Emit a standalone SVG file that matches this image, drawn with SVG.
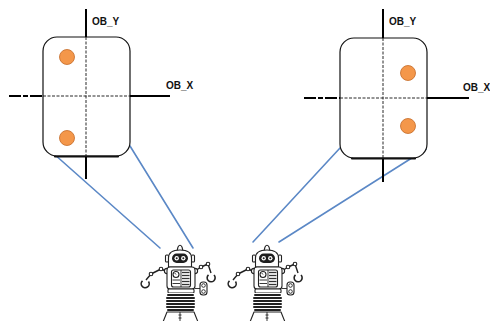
<svg xmlns="http://www.w3.org/2000/svg" xmlns:xlink="http://www.w3.org/1999/xlink" width="490" height="321" viewBox="0 0 490 321">
  <style>
    .panel { fill: #ffffff; stroke: #111111; stroke-width: 1.2; }
    .panel-base { fill: none; stroke: #111111; stroke-width: 2.2; stroke-linecap: round; }
    .axis { fill: none; stroke: #000000; stroke-width: 2; }
    .axis-out { fill: none; stroke: #000000; stroke-width: 2; stroke-dasharray: 12 2 5 2; }
    .axis-in { fill: none; stroke: #111111; stroke-width: 0.9; stroke-dasharray: 3 1.5; }
    .label { font-family: "Liberation Sans", Arial, sans-serif; font-size: 10px; font-weight: bold; fill: #111111; }
    .dot { fill: #f4974a; stroke: #c46a26; stroke-width: 0.8; }
    .ray { fill: none; stroke: #5b88c6; stroke-width: 1.6; stroke-linecap: round; }
    .r-line { fill: #ffffff; stroke: #222222; stroke-width: 1.1; stroke-linejoin: round; }
    .r-thin { fill: none; stroke: #222222; stroke-width: 0.9; }
    .r-arm { fill: none; stroke: #222222; stroke-width: 1.4; stroke-linejoin: round; }
    .r-claw { fill: none; stroke: #222222; stroke-width: 1.6; }
    .r-coil { fill: none; stroke: #222222; stroke-width: 2; stroke-linecap: round; }
    .r-dark { fill: #1e1e1e; }
  </style>
  <defs>
    <!-- wind-up robot, drawn around x = 0 -->
    <symbol id="robot" viewBox="-45 240 90 81" width="90" height="81" overflow="visible">
      <!-- arms -->
      <path class="r-arm" d="M-12,272 L-19,269 L-29,274 L-34,280"/>
      <circle class="r-line" cx="-19" cy="269" r="1.8"/>
      <circle class="r-line" cx="-29" cy="274" r="1.8"/>
      <path class="r-claw" d="M-37.5,280.8 A4,4 0 1 0 -31.5,281.5"/>
      <path class="r-arm" d="M15,271 L21,267 L28,264 L31,273"/>
      <circle class="r-line" cx="21" cy="267" r="1.8"/>
      <circle class="r-line" cx="28" cy="264" r="1.8"/>
      <path class="r-claw" d="M28.5,274.8 A4,4 0 1 0 34,275"/>
      <!-- shoulders -->
      <circle class="r-line" cx="-13" cy="271" r="2.6"/>
      <circle class="r-line" cx="15" cy="271" r="2.6"/>
      <!-- wind-up key -->
      <line class="r-thin" x1="15" y1="288.5" x2="21" y2="288.5" stroke-width="1.6"/>
      <rect class="r-line" x="20" y="282" width="7" height="13" rx="3"/>
      <circle class="r-thin" cx="23.5" cy="285.5" r="1.8"/>
      <circle class="r-thin" cx="23.5" cy="291.5" r="1.8"/>
      <!-- antenna -->
      <path class="r-line" d="M-3,251 L-2,247 Q0,243.5 2,247 L3,251 Z"/>
      <!-- ears -->
      <rect class="r-line" x="-14.5" y="255" width="3" height="7" rx="1"/>
      <rect class="r-line" x="11.5" y="255" width="3" height="7" rx="1"/>
      <!-- head -->
      <path class="r-line" d="M-11.5,267 L-11.5,258 Q-11.5,250 0,250 Q11.5,250 11.5,258 L11.5,267 Z"/>
      <rect class="r-dark" x="-8" y="253.5" width="16" height="9.5" rx="4.7"/>
      <circle cx="-3.3" cy="258.2" r="2.2" fill="#ffffff"/>
      <circle cx="3.3" cy="258.2" r="2.2" fill="#ffffff"/>
      <circle cx="-3.3" cy="258.2" r="1" class="r-dark"/>
      <circle cx="3.3" cy="258.2" r="1" class="r-dark"/>
      <!-- torso -->
      <rect class="r-line" x="-13" y="267" width="28" height="22" rx="3"/>
      <rect class="r-line" x="-8.5" y="270" width="19" height="17" rx="2"/>
      <line class="r-thin" x1="1" y1="270" x2="1" y2="287"/>
      <circle class="r-line" cx="-4" cy="274.5" r="3"/>
      <line class="r-thin" x1="-4" y1="274.5" x2="-5.5" y2="272.8"/>
      <line class="r-thin" x1="-7.5" y1="280" x2="0" y2="280"/>
      <line class="r-thin" x1="-7.5" y1="283.5" x2="0" y2="283.5"/>
      <g stroke="#333333" stroke-width="1.3">
        <line x1="2" y1="272.5" x2="9.5" y2="272.5"/>
        <line x1="2" y1="275.5" x2="9.5" y2="275.5"/>
        <line x1="2" y1="278.5" x2="9.5" y2="278.5"/>
        <line x1="2" y1="281.5" x2="9.5" y2="281.5"/>
        <line x1="2" y1="284.5" x2="9.5" y2="284.5"/>
      </g>
      <!-- waist -->
      <rect class="r-line" x="-12" y="289" width="26" height="4" rx="1"/>
      <!-- coil -->
      <rect x="-13" y="293" width="27" height="19" fill="#ffffff"/>
      <line class="r-coil" x1="-12" y1="295" x2="13" y2="295"/>
      <line class="r-coil" x1="-13" y1="298" x2="14" y2="298"/>
      <line class="r-coil" x1="-13" y1="301" x2="14" y2="301"/>
      <line class="r-coil" x1="-13" y1="304" x2="14" y2="304"/>
      <line class="r-coil" x1="-13" y1="307" x2="14" y2="307"/>
      <line class="r-coil" x1="-12" y1="310" x2="13" y2="310"/>
      <!-- base -->
      <path class="r-line" d="M-13,312 L14,312 L18,322 L-17,322 Z"/>
      <path class="r-thin" d="M0,312 L0,322 M-1.5,315 L1.5,315 M-1.5,318 L1.5,318"/>
    </symbol>
  </defs>

  <!-- sight lines from each camera to its view -->
  <g id="connectors">
    <line class="ray" x1="45" y1="146" x2="160" y2="248"/>
    <line class="ray" x1="130" y1="146" x2="193" y2="248"/>
    <line class="ray" x1="340" y1="148" x2="253" y2="242"/>
    <line class="ray" x1="426" y1="149" x2="279" y2="242"/>
  </g>

  <!-- left view -->
  <g id="view-left">
    <rect class="panel" x="43" y="37" width="87" height="119" rx="14"/>
    <path class="panel-base" d="M55,156.5 L118,156.5"/>
    <line class="axis" x1="86" y1="9" x2="86" y2="37"/>
    <line class="axis-in" x1="86" y1="37" x2="86" y2="156"/>
    <line class="axis" x1="86" y1="157" x2="86" y2="179"/>
    <line class="axis-out" x1="9" y1="96" x2="43" y2="96"/>
    <line class="axis-in" x1="43" y1="96" x2="130" y2="96"/>
    <line class="axis" x1="130" y1="96" x2="170" y2="96"/>
    <circle class="dot" cx="67" cy="57" r="7.5"/>
    <circle class="dot" cx="67" cy="138" r="7.5"/>
    <text class="label" x="92" y="25">OB_Y</text>
    <text class="label" x="166" y="89">OB_X</text>
  </g>

  <!-- right view -->
  <g id="view-right">
    <rect class="panel" x="340" y="38" width="87" height="120" rx="14"/>
    <path class="panel-base" d="M352,158.5 L415,158.5"/>
    <line class="axis" x1="383" y1="9" x2="383" y2="38"/>
    <line class="axis-in" x1="383" y1="38" x2="383" y2="158"/>
    <line class="axis" x1="383" y1="159" x2="383" y2="182"/>
    <line class="axis-out" x1="304" y1="98" x2="340" y2="98"/>
    <line class="axis-in" x1="340" y1="98" x2="427" y2="98" stroke="#999999" stroke-width="1.5"/>
    <line class="axis" x1="427" y1="98" x2="469" y2="98"/>
    <circle class="dot" cx="408" cy="73" r="7.5"/>
    <circle class="dot" cx="408" cy="126" r="7.5"/>
    <text class="label" x="389" y="25">OB_Y</text>
    <text class="label" x="463" y="91" font-size="9.5">OB_X</text>
  </g>

  <!-- cameras -->
  <g id="robot-left">
    <use xlink:href="#robot" x="135" y="240"/>
  </g>
  <g id="robot-right">
    <use xlink:href="#robot" x="222" y="240"/>
  </g>
</svg>
